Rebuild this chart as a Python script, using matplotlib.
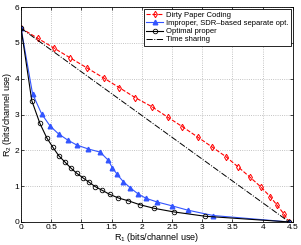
import matplotlib
matplotlib.use("Agg")
from matplotlib import pyplot as plt
import numpy as np

plt.rcParams['font.family'] = ['Liberation Sans', 'DejaVu Sans']
plt.rcParams['mathtext.fontset'] = 'custom'
plt.rcParams['mathtext.rm'] = 'Liberation Sans'
plt.rcParams['mathtext.it'] = 'Liberation Sans'

# Dirty paper coding
dpc_r1 = [0, 0.276, 0.551, 0.816, 1.093, 1.369, 1.627, 1.892, 2.164, 2.434, 2.671,
          2.925, 3.157, 3.394, 3.598, 3.791, 3.969, 4.123, 4.238, 4.349, 4.44]
dpc_r2 = [5.41, 5.13, 4.85, 4.58, 4.30, 4.02, 3.75, 3.47, 3.22, 2.92, 2.66,
          2.37, 2.10, 1.82, 1.53, 1.25, 0.98, 0.71, 0.47, 0.23, 0.0]

# improper, SDR-based separate opt.
imp_r1 = [0, 0.19, 0.34, 0.48, 0.62, 0.77, 0.92, 1.11, 1.31, 1.44, 1.51, 1.59,
          1.69, 1.81, 1.94, 2.07, 2.25, 2.50, 2.76, 3.18, 4.44]
imp_r2 = [5.41, 3.58, 3.02, 2.68, 2.46, 2.29, 2.15, 2.04, 1.95, 1.73, 1.52, 1.33,
          1.13, 0.95, 0.78, 0.66, 0.56, 0.45, 0.33, 0.18, 0.0]

# optimal proper
opt_r1 = [0, 0.177, 0.31, 0.425, 0.525, 0.624, 0.728, 0.828, 0.922, 1.026, 1.126,
          1.225, 1.336, 1.469, 1.611, 1.777, 1.97, 2.207, 2.533, 3.046, 4.44]
opt_r2 = [5.41, 3.39, 2.76, 2.35, 2.09, 1.85, 1.67, 1.50, 1.36, 1.23, 1.11,
          0.99, 0.89, 0.77, 0.67, 0.59, 0.48, 0.38, 0.28, 0.16, 0.0]

# time sharing
ts_r1 = [0, 4.44]
ts_r2 = [5.41, 0]

fig = plt.figure(figsize=(3.01, 2.45), dpi=100)
ax = fig.add_axes([0.07, 0.094, 0.903, 0.877])

ax.plot(dpc_r1, dpc_r2, '--', color='red', lw=0.8, marker='d', ms=3.3,
        mfc='none', mec='red', mew=0.7, label='Dirty Paper Coding')
ax.plot(imp_r1, imp_r2, '-', color='#3355ff', lw=0.8, marker='^', ms=3.3,
        mfc='#3355ff', mec='#3355ff', label='Improper, SDR\u2013based separate opt.')
ax.plot(opt_r1, opt_r2, '-', color='black', lw=0.8, marker='o', ms=3.3,
        mfc='none', mec='black', mew=0.6, label='Optimal proper')
ax.plot(ts_r1, ts_r2, '-.', color='black', lw=0.7, label='Time sharing')

ax.set_xlim(0, 4.5)
ax.set_ylim(0, 6)
ax.set_xticks(np.arange(0, 4.51, 0.5))
ax.set_xticklabels(['0', '0.5', '1', '1.5', '2', '2.5', '3', '3.5', '4', '4.5'])
ax.set_yticks(range(7))
ax.tick_params(direction='in', labelsize=6, length=2.5, width=0.5,
               top=True, right=True, pad=1.5)
ax.grid(True, linestyle=':', color='#b0b0b0', lw=0.6)
for s in ax.spines.values():
    s.set_linewidth(0.6)

ax.set_xlabel('R$_1$ (bits/channel use)', fontsize=6.5, labelpad=0)
ax.set_ylabel('R$_2$ (bits/channel use)', fontsize=6.5, labelpad=0)

leg = ax.legend(loc='upper right', fontsize=5.5, fancybox=False, framealpha=1,
                edgecolor='black', borderpad=0.3, labelspacing=0.1,
                handlelength=2.3, handletextpad=0.3, borderaxespad=0.3)
leg.get_frame().set_linewidth(0.6)

fig.savefig('out.png', dpi=100)
